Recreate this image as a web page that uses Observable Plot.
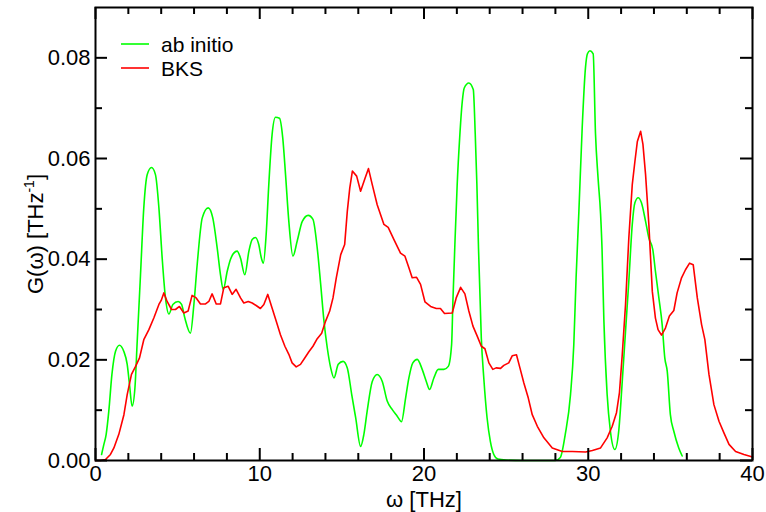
<!DOCTYPE html>
<html>
<head>
<meta charset="utf-8">
<script src="https://cdn.jsdelivr.net/npm/d3@7"></script>
<script src="https://cdn.jsdelivr.net/npm/@observablehq/plot@0.6"></script>
<style>
  html, body { margin: 0; padding: 0; background: #fff; }
  #wrap { position: relative; width: 766px; height: 512px; font-family: "Liberation Sans", Arial, Helvetica, sans-serif; }
  .leg { position: absolute; left: 121px; height: 23.5px; line-height: 23.5px; font-size: 21px; color: #000; white-space: nowrap; display: flex; }
  .leg svg { display: block; width: 28px; height: 23.5px; }
  .leg span { margin-left: 12px; }
</style>
</head>
<body>
<div id="wrap"></div>
<script>
// ---- data ----
const seriesNames = ["ab initio", "BKS"];
const seriesColors = ["#00ff00", "#ff0000"];

const abOmega = [0.37,0.51,0.65,0.81,1.0,1.22,1.46,1.72,1.93,2.07,2.23,2.4,2.54,2.74,2.94,3.15,3.41,3.65,3.86,4.06,4.26,4.47,4.71,5.03,5.24,5.44,5.78,5.99,6.19,6.5,6.86,7.14,7.41,7.61,7.78,8.02,8.22,8.42,8.62,8.83,9.09,9.34,9.54,9.74,9.94,10.1,10.22,10.39,10.55,10.75,10.96,11.2,11.4,11.57,11.77,12.02,12.28,12.59,12.95,13.24,13.5,13.71,13.91,14.11,14.32,14.52,14.78,15.07,15.33,15.6,15.84,16.14,16.34,16.54,16.85,17.15,17.46,17.76,18.07,18.37,18.63,18.88,19.08,19.32,19.59,19.89,20.14,20.34,20.6,20.87,21.21,21.48,21.68,21.76,21.88,22.02,22.17,22.33,22.45,22.73,23.0,23.12,23.22,23.32,23.49,23.64,23.84,24.04,24.25,24.5,25,26,27,28,28.3,28.6,28.92,29.12,29.26,29.43,29.63,29.83,29.95,30.1,30.3,30.44,30.6,30.75,30.84,30.95,31.15,31.35,31.62,31.86,32.07,32.27,32.47,32.68,32.84,33.04,33.24,33.49,33.69,33.93,34.09,34.3,34.5,34.66,34.81,35.0,35.21,35.51,35.72];
const abG = [0.0012,0.0032,0.0052,0.0098,0.0171,0.0217,0.0229,0.0217,0.0191,0.0151,0.0108,0.0144,0.0237,0.0369,0.0502,0.0568,0.0582,0.0568,0.0502,0.0402,0.0323,0.0291,0.0310,0.0316,0.0310,0.0283,0.0253,0.0310,0.0389,0.0482,0.0502,0.0482,0.0422,0.0369,0.0340,0.0376,0.0400,0.0412,0.0416,0.0402,0.0369,0.0416,0.0439,0.0443,0.0429,0.0402,0.0392,0.0449,0.0548,0.0647,0.0682,0.0680,0.0641,0.0568,0.0475,0.0406,0.0436,0.0475,0.0487,0.0479,0.0422,0.0350,0.0277,0.0224,0.0184,0.0164,0.0191,0.0197,0.0184,0.0131,0.0085,0.0028,0.0052,0.0098,0.0157,0.0171,0.0157,0.0118,0.0101,0.0088,0.0077,0.0124,0.0164,0.0194,0.0201,0.0181,0.0157,0.0141,0.0164,0.0181,0.0181,0.0187,0.0230,0.0316,0.0429,0.0548,0.0640,0.0713,0.0740,0.0750,0.0737,0.0648,0.0548,0.0420,0.0243,0.0164,0.0085,0.0038,0.0012,0.0003,0.0001,0,0,0,0.0006,0.0052,0.0131,0.0230,0.0363,0.0495,0.0660,0.0780,0.0808,0.0814,0.0808,0.0650,0.0560,0.0490,0.0420,0.0280,0.0131,0.0058,0.0022,0.0060,0.0157,0.0257,0.0356,0.0469,0.0512,0.0522,0.0512,0.0475,0.0442,0.0419,0.0376,0.0323,0.0270,0.0204,0.0177,0.0091,0.0058,0.0025,0.0009];

const bksOmega = [0,0.3,0.61,0.91,1.12,1.42,1.73,1.93,2.19,2.44,2.68,2.94,3.25,3.55,3.86,4.0,4.16,4.36,4.63,4.87,5.11,5.38,5.64,5.88,6.13,6.39,6.7,6.9,7.1,7.35,7.61,7.81,8.08,8.32,8.56,8.83,9.03,9.3,9.54,9.78,10.04,10.25,10.49,10.75,11.0,11.26,11.53,11.77,11.97,12.22,12.48,12.75,12.99,13.24,13.5,13.77,14.01,14.26,14.46,14.66,14.93,15.17,15.33,15.48,15.64,15.9,16.14,16.4,16.62,16.85,17.15,17.56,17.82,18.17,18.57,18.84,19.08,19.28,19.55,19.79,20.06,20.4,20.75,21.0,21.25,21.72,21.96,22.23,22.49,22.73,22.98,23.24,23.49,23.71,23.95,24.19,24.39,24.66,24.86,25.16,25.37,25.63,25.84,26.08,26.35,26.59,26.9,27.3,27.81,28.42,29.03,29.84,30.25,30.75,31.15,31.46,31.72,31.9,32.07,32.27,32.47,32.68,32.84,32.99,33.19,33.33,33.49,33.69,33.9,34.09,34.25,34.46,34.7,34.94,35.21,35.41,35.68,35.92,36.17,36.39,36.64,36.9,37.1,37.35,37.65,37.96,38.26,38.57,38.97,39.48,40.0];
const bksG = [0,0,0.0002,0.0012,0.0025,0.0052,0.0091,0.0131,0.0171,0.0187,0.0204,0.0240,0.0260,0.0283,0.0310,0.0318,0.0333,0.0316,0.0300,0.0300,0.0306,0.0293,0.0297,0.0328,0.0323,0.0311,0.0311,0.0316,0.0331,0.0311,0.0311,0.0343,0.0346,0.0330,0.0340,0.0323,0.0313,0.0316,0.0313,0.0308,0.0302,0.0310,0.0330,0.0303,0.0277,0.0250,0.0227,0.0211,0.0194,0.0186,0.0191,0.0204,0.0216,0.0227,0.0242,0.0253,0.0277,0.0297,0.0323,0.0363,0.0409,0.0429,0.0495,0.0541,0.0575,0.0565,0.0535,0.0560,0.0580,0.0548,0.0508,0.0469,0.0463,0.0439,0.0412,0.0406,0.0383,0.0363,0.0364,0.0350,0.0315,0.0306,0.0302,0.0302,0.0292,0.0293,0.0323,0.0344,0.0331,0.0297,0.0267,0.0247,0.0227,0.0222,0.0194,0.0181,0.0184,0.0183,0.0189,0.0194,0.0208,0.0210,0.0184,0.0154,0.0124,0.0091,0.0068,0.0045,0.0025,0.0018,0.0018,0.0017,0.0020,0.0025,0.0045,0.0068,0.0095,0.0135,0.0210,0.0310,0.0442,0.0548,0.0594,0.0634,0.0654,0.0628,0.0568,0.0469,0.0336,0.0283,0.0260,0.0249,0.0263,0.0287,0.0298,0.0333,0.0363,0.0379,0.0392,0.0389,0.0323,0.0270,0.0240,0.0171,0.0111,0.0078,0.0055,0.0032,0.0018,0.0012,0.0007];

const xMajor = [0, 10, 20, 30, 40];
const xMinor = [2, 4, 6, 8, 12, 14, 16, 18, 22, 24, 26, 28, 32, 34, 36, 38];
const yMajor = [0, 0.02, 0.04, 0.06, 0.08];
const yMinor = [0.01, 0.03, 0.05, 0.07];
const xTitle = "ω [THz]";
const yTitle = "G(ω) [THz-1]";

// ---- build tables ----
const abData = abOmega.map((w, i) => ({w, g: abG[i]}));
const bksData = bksOmega.map((w, i) => ({w, g: bksG[i]}));

const W = 766, H = 512, mt = 7, mr = 14, mb = 52, ml = 95;
const iw = W - ml - mr, ih = H - mt - mb;
const major = 12, minor = 7;
const font = '"Liberation Sans", Arial, Helvetica, sans-serif';

const chart = Plot.plot({
  width: W, height: H,
  marginTop: mt, marginRight: mr, marginBottom: mb, marginLeft: ml,
  style: {fontFamily: font, fontSize: "22px", background: "#fff", color: "#000"},
  x: {domain: [0, 40]},
  y: {domain: [0, 0.09]},
  marks: [
    Plot.line(abData, {x: "w", y: "g", stroke: seriesColors[0], strokeWidth: 1.6, curve: "monotone-x"}),
    Plot.line(bksData, {x: "w", y: "g", stroke: seriesColors[1], strokeWidth: 1.6, curve: "linear"}),
    // inward ticks on all four sides
    Plot.tickX(xMajor, {x: d => d, insetTop: ih - major, stroke: "#000", strokeWidth: 2}),
    Plot.tickX(xMajor, {x: d => d, insetBottom: ih - major, stroke: "#000", strokeWidth: 2}),
    Plot.tickX(xMinor, {x: d => d, insetTop: ih - minor, stroke: "#000", strokeWidth: 2}),
    Plot.tickX(xMinor, {x: d => d, insetBottom: ih - minor, stroke: "#000", strokeWidth: 2}),
    Plot.tickY(yMajor, {y: d => d, insetRight: iw - major, stroke: "#000", strokeWidth: 2}),
    Plot.tickY(yMajor, {y: d => d, insetLeft: iw - major, stroke: "#000", strokeWidth: 2}),
    Plot.tickY(yMinor, {y: d => d, insetRight: iw - minor, stroke: "#000", strokeWidth: 2}),
    Plot.tickY(yMinor, {y: d => d, insetLeft: iw - minor, stroke: "#000", strokeWidth: 2}),
    Plot.frame({stroke: "#000", strokeWidth: 2}),
    Plot.axisX({ticks: xMajor, tickSize: 0, tickPadding: 5, tickFormat: d3.format("d"), label: null, fontSize: 22}),
    Plot.axisY({ticks: yMajor, tickSize: 0, tickPadding: 5, tickFormat: d3.format(".2f"), label: null, fontSize: 22}),
    Plot.text([xTitle], {text: d => d, frameAnchor: "bottom", dy: 46, lineAnchor: "bottom", fontSize: 22}),
    Plot.text([yTitle], {text: d => d, frameAnchor: "left", dx: -53, rotate: -90, lineAnchor: "bottom", textAnchor: "middle", fontSize: 22})
  ]
});

// superscript for THz^-1
d3.select(chart).selectAll("text").filter(function() { return this.textContent === yTitle; }).each(function() {
  const t = d3.select(this);
  t.text(null);
  t.append("tspan").text("G(ω) [THz");
  t.append("tspan").attr("dy", -9).attr("font-size", 14).text("-1");
  t.append("tspan").attr("dy", 9).text("]");
});

const wrap = document.getElementById("wrap");
wrap.appendChild(chart);

// legend (top-left inside the frame)
const legTops = [33, 56.5];
seriesNames.forEach((name, i) => {
  const row = document.createElement("div");
  row.className = "leg";
  row.style.top = legTops[i] + "px";
  row.innerHTML = `<svg viewBox="0 0 28 23.5"><line x1="0" x2="28" y1="11" y2="11" stroke="${seriesColors[i]}" stroke-width="1.6"/></svg><span></span>`;
  row.querySelector("span").textContent = name;
  wrap.appendChild(row);
});
</script>
</body>
</html>
